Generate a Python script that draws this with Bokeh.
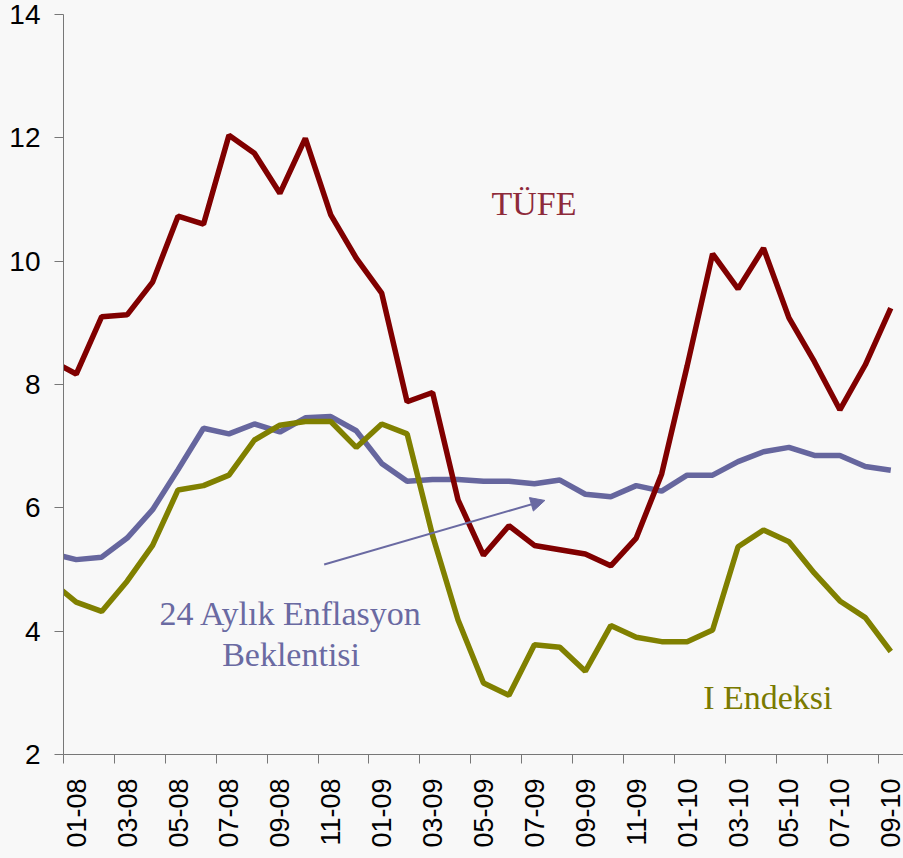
import math
from bokeh.plotting import figure
from bokeh.models import ColumnDataSource, FixedTicker, Range1d, Arrow, NormalHead
from bokeh.core.properties import value
from bokeh.embed import file_html
from bokeh.resources import INLINE

# month index: -1 = 12-07 (only partly visible), 0 = 01-08 ... 32 = 09-10
months = list(range(-1, 33))
tick_labels = ["01-08", "03-08", "05-08", "07-08", "09-08", "11-08",
               "01-09", "03-09", "05-09", "07-09", "09-09", "11-09",
               "01-10", "03-10", "05-10", "07-10", "09-10"]

tufe = [8.39, 8.17, 9.10, 9.13, 9.66, 10.73, 10.60, 12.04, 11.75, 11.10, 11.99,
        10.75, 10.05, 9.48, 7.72, 7.87, 6.13, 5.23, 5.71, 5.39, 5.32, 5.25,
        5.06, 5.51, 6.55, 8.30, 10.12, 9.55, 10.21, 9.08, 8.37, 7.59, 8.32, 9.24]
beklenti = [5.26, 5.16, 5.20, 5.51, 5.97, 6.62, 7.29, 7.20, 7.36, 7.23, 7.46,
            7.48, 7.25, 6.72, 6.43, 6.46, 6.46, 6.43, 6.43, 6.39, 6.45, 6.22,
            6.18, 6.36, 6.27, 6.53, 6.53, 6.75, 6.91, 6.98, 6.85, 6.85, 6.67, 6.61]
endeks = [4.81, 4.47, 4.32, 4.81, 5.39, 6.29, 6.36, 6.53, 7.10, 7.34, 7.40,
          7.40, 6.98, 7.36, 7.20, 5.55, 4.18, 3.16, 2.96, 3.78, 3.74, 3.35,
          4.09, 3.90, 3.83, 3.83, 4.02, 5.37, 5.64, 5.45, 4.94, 4.49, 4.22, 3.67]

y_ticks = [2, 4, 6, 8, 10, 12, 14]

label_text = ["TÜFE", "24 Aylık Enflasyon", "Beklentisi", "I Endeksi"]
label_x = [17.98, 8.44, 8.44, 27.17]
label_y = [10.94, 4.29, 3.62, 2.93]
label_color = ["#8e2a3a", "#6a6aa2", "#6a6aa2", "#7a7a00"]

arrow_start = (9.74, 5.08)
arrow_end = (18.41, 6.12)

BG = "#f8f8f8"

p = figure(width=903, height=858, output_backend="svg", toolbar_location=None,
           x_range=Range1d(-0.5, 32.5), y_range=Range1d(2, 14),
           background_fill_color=BG, border_fill_color=BG,
           min_border_left=63, min_border_right=0, min_border_top=14,
           min_border_bottom=104)
p.outline_line_color = None
p.grid.visible = False

src = ColumnDataSource(dict(x=months, tufe=tufe, bek=beklenti, end=endeks))
p.line("x", "bek", source=src, line_color="#66669e", line_width=5.5)
p.line("x", "end", source=src, line_color="#808000", line_width=5.5)
p.line("x", "tufe", source=src, line_color="#800000", line_width=5.5)

lsrc = ColumnDataSource(dict(x=label_x, y=label_y, text=label_text, color=label_color))
p.text("x", "y", text="text", source=lsrc, text_color="color",
       text_font=value("Liberation Serif"), text_font_size="34px",
       text_align="center", text_baseline="alphabetic")

p.add_layout(Arrow(end=NormalHead(size=14, fill_color="#6a6aa2", line_color="#6a6aa2"),
                   x_start=arrow_start[0], y_start=arrow_start[1],
                   x_end=arrow_end[0], y_end=arrow_end[1],
                   line_color="#6a6aa2", line_width=2))

axis_color = "#777777"
# y axis
yax = p.yaxis[0]
yax.ticker = FixedTicker(ticks=y_ticks)
yax.major_tick_out = 9
yax.major_tick_in = 0
yax.minor_tick_out = 0
yax.minor_tick_in = 0
yax.axis_line_color = axis_color
yax.major_tick_line_color = axis_color
yax.major_label_text_font = "Liberation Sans"
yax.major_label_text_font_size = "28px"
yax.major_label_text_color = "black"
yax.major_label_standoff = 14

# x axis: labels at odd months, tick marks at category boundaries
label_pos = list(range(0, 33, 2))
xax = p.xaxis[0]
xax.ticker = FixedTicker(ticks=label_pos,
                         minor_ticks=[t - 0.5 for t in label_pos])
xax.major_label_overrides = {t: s for t, s in zip(label_pos, tick_labels)}
xax.major_label_orientation = math.pi / 2
xax.major_tick_out = 0
xax.major_tick_in = 0
xax.minor_tick_out = 9
xax.minor_tick_in = 0
xax.minor_tick_line_color = axis_color
xax.axis_line_color = axis_color
xax.major_label_text_font = "Liberation Sans"
xax.major_label_text_font_size = "27px"
xax.major_label_text_color = "black"
xax.major_label_standoff = 15

html = file_html(p, INLINE)
html = html.replace("</head>", "<style>body{background:#f8f8f8;}</style></head>", 1)
open("out.html", "w").write(html)
